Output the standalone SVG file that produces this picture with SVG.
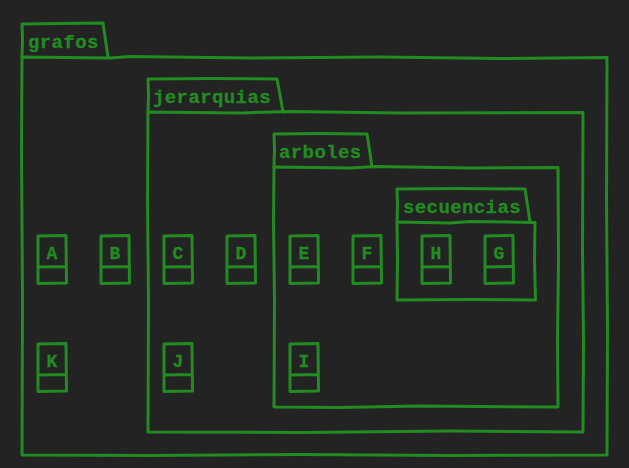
<svg xmlns="http://www.w3.org/2000/svg" width="629" height="468" viewBox="0 0 629 468">
<style>
.s{fill:none;stroke:#228b22;stroke-width:3;stroke-linejoin:round;stroke-linecap:round}
.t{fill:#228b22;font-family:"Liberation Mono","DejaVu Sans Mono",monospace;font-weight:bold;font-size:19px;letter-spacing:0.4px;stroke:#228b22;stroke-width:0.3}
.n{fill:#228b22;font-family:"Liberation Mono","DejaVu Sans Mono",monospace;font-weight:bold;font-size:18px;text-anchor:middle;stroke:#228b22;stroke-width:0.3}
</style>
<rect width="629" height="468" fill="#232323"/>
<g id="grafos">
<path class="s" d="M22,57 L22.5,40 L22,24 L60,23.5 L103,23 L105.5,40 L108,57"/>
<path class="s" d="M22,57 L110,58 L130,56.5 L250,58 L380,57 L500,58.5 L607,57.5 L606.5,200 L607.5,330 L607,455 L450,455.5 L300,454.5 L150,455.5 L22,455 L22.5,300 L21.5,150 Z"/>
<text class="t" x="28" y="48">grafos</text>
</g>
<g id="jerarquias">
<path class="s" d="M148,112 L148.5,95 L148,79 L210,78.5 L277,79 L280,95 L283,112"/>
<path class="s" d="M148,112 L240,113 L290,111.5 L400,113 L583,112.5 L582.5,250 L583.5,340 L583,432 L450,431 L300,432.5 L148,432 L148.5,300 L147.5,200 Z"/>
<text class="t" x="153" y="103">jerarquias</text>
</g>
<g id="arboles">
<path class="s" d="M274,167 L274.5,150 L274,134 L320,133.5 L367,134 L369.5,150 L372,167"/>
<path class="s" d="M274,167 L350,168 L376,166.5 L470,168 L558,167.5 L558.5,260 L557.5,340 L558,407 L420,406 L340,407.5 L274,407 L274.5,300 L273.5,220 Z"/>
<text class="t" x="279" y="158">arboles</text>
</g>
<g id="secuencias">
<path class="s" d="M397,222 L397.5,205 L397,189 L460,188.5 L525,189 L527.5,205 L530,222"/>
<path class="s" d="M397,222 L450,223 L470,221.5 L535,222.5 L534.5,260 L535.5,300 L470,299.5 L397,300 L397.5,260 Z"/>
<text class="t" x="403" y="213">secuencias</text>
</g>
<g id="A"><path class="s" d="M38,236 L66,235.5 L66.5,283 L38,283.5 Z M38,267 L66,266.5"/><text class="n" x="52" y="259">A</text></g>
<g id="B"><path class="s" d="M101,236 L129,235.5 L129.5,283 L101,283.5 Z M101,267 L129,266.5"/><text class="n" x="115" y="259">B</text></g>
<g id="C"><path class="s" d="M164,236 L192,235.5 L192.5,283 L164,283.5 Z M164,267 L192,266.5"/><text class="n" x="178" y="259">C</text></g>
<g id="D"><path class="s" d="M227,236 L255,235.5 L255.5,283 L227,283.5 Z M227,267 L255,266.5"/><text class="n" x="241" y="259">D</text></g>
<g id="E"><path class="s" d="M290,236 L318,235.5 L318.5,283 L290,283.5 Z M290,267 L318,266.5"/><text class="n" x="304" y="259">E</text></g>
<g id="F"><path class="s" d="M353,236 L381,235.5 L381.5,283 L353,283.5 Z M353,267 L381,266.5"/><text class="n" x="367" y="259">F</text></g>
<g id="H"><path class="s" d="M422,236 L450,235.5 L450.5,283 L422,283.5 Z M422,267 L450,266.5"/><text class="n" x="436" y="259">H</text></g>
<g id="G"><path class="s" d="M485,236 L513,235.5 L513.5,283 L485,283.5 Z M485,267 L513,266.5"/><text class="n" x="499" y="259">G</text></g>
<g id="K"><path class="s" d="M38,344 L66,343.5 L66.5,391 L38,391.5 Z M38,375 L66,374.5"/><text class="n" x="52" y="367">K</text></g>
<g id="J"><path class="s" d="M164,344 L192,343.5 L192.5,391 L164,391.5 Z M164,375 L192,374.5"/><text class="n" x="178" y="367">J</text></g>
<g id="I"><path class="s" d="M290,344 L318,343.5 L318.5,391 L290,391.5 Z M290,375 L318,374.5"/><text class="n" x="304" y="367">I</text></g>
<g id="connectors"/>
</svg>
